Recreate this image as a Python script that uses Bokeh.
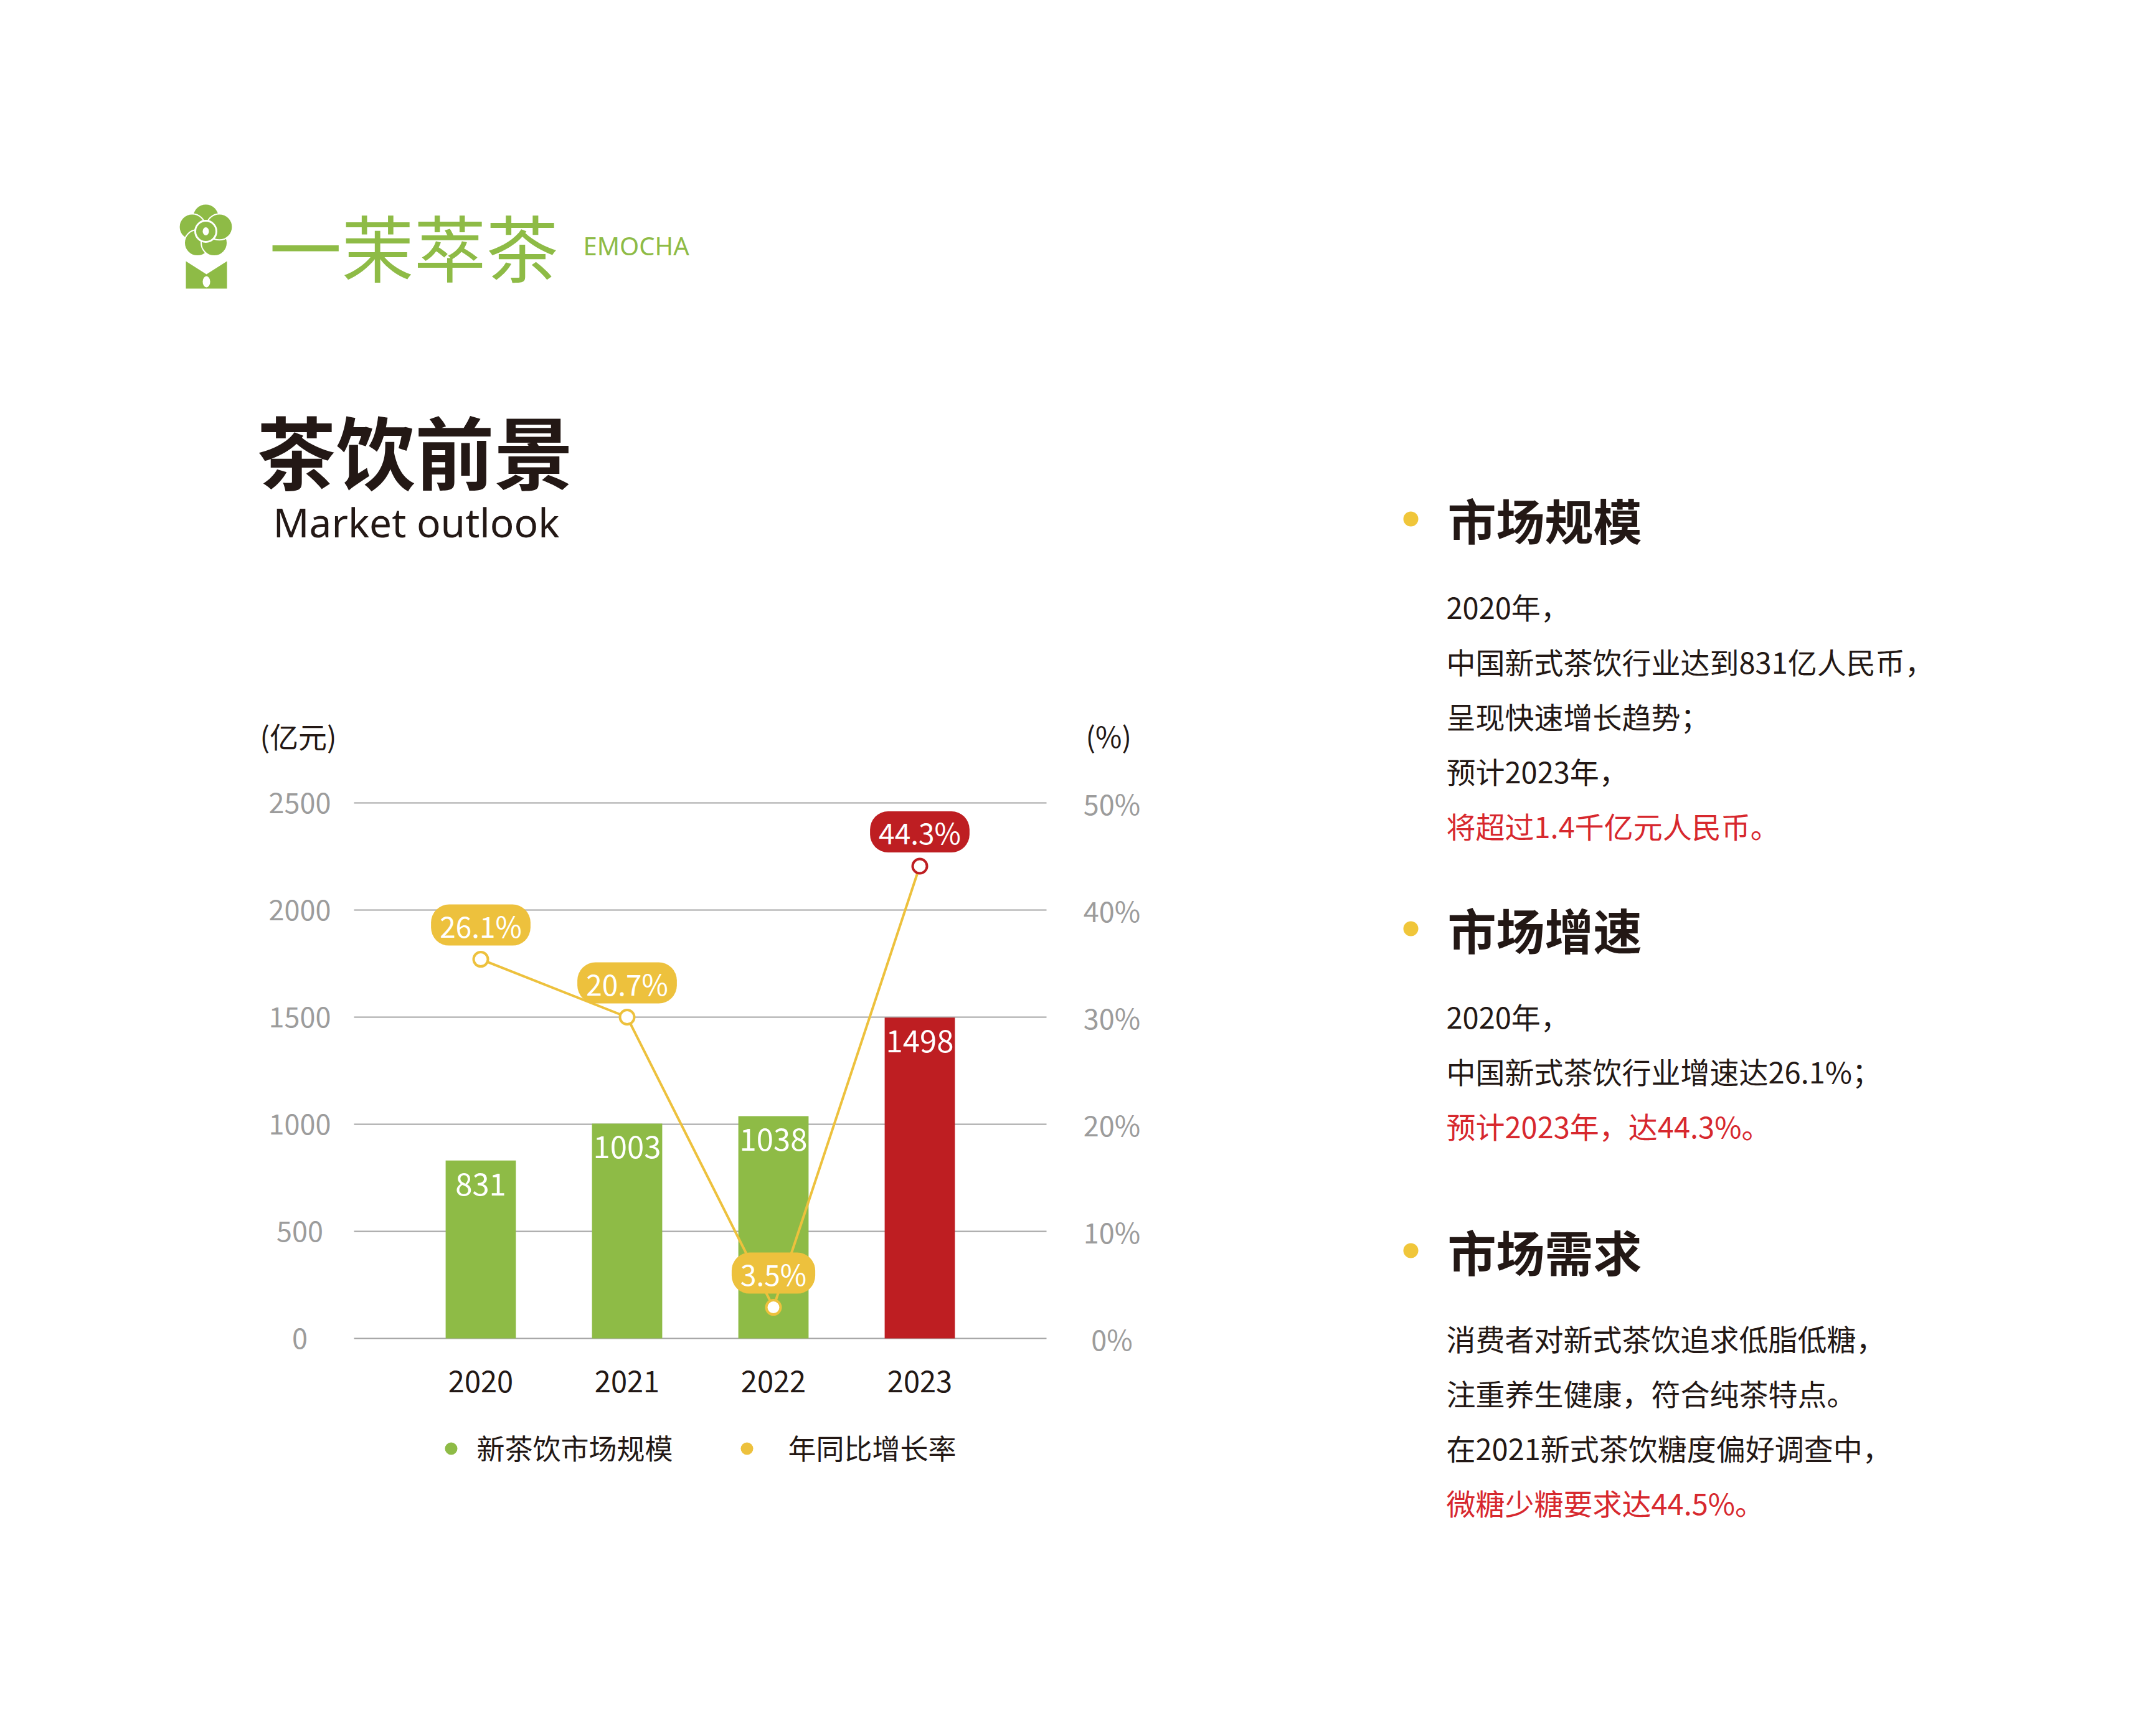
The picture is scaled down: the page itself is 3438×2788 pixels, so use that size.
import math
from bokeh.plotting import figure
from bokeh.models import Range1d, Label
from bokeh.core.properties import value
from bokeh.embed import file_html
from bokeh.resources import INLINE

# ---------------- data ----------------
years = ["2020", "2021", "2022", "2023"]
market_size = [831, 1003, 1038, 1498]                 # 亿元
growth_text = ["26.1%", "20.7%", "3.5%", "44.3%"]     # printed growth labels
growth_drawn = [35.4, 30.0, 2.9, 44.1]                # line point heights as drawn, read on the right (%) axis
size_ticks = [0, 500, 1000, 1500, 2000, 2500]
size_tick_labels = ["0", "500", "1000", "1500", "2000", "2500"]
pct_ticks = [0, 10, 20, 30, 40, 50]
pct_tick_labels = ["0%", "10%", "20%", "30%", "40%", "50%"]
legend_labels = ["新茶饮市场规模", "年同比增长率"]
y_unit = "(亿元)"
y2_unit = "(%)"
brand_cn = "一茉萃茶"
brand_en = "EMOCHA"
title_cn = "茶饮前景"
title_en = "Market outlook"
sec_titles = ["市场规模", "市场增速", "市场需求"]
sec_lines = [
    ["2020年，", "中国新式茶饮行业达到831亿人民币，", "呈现快速增长趋势；", "预计2023年，", "将超过1.4千亿元人民币。"],
    ["2020年，", "中国新式茶饮行业增速达26.1%；", "预计2023年，达44.3%。"],
    ["消费者对新式茶饮追求低脂低糖，", "注重养生健康，符合纯茶特点。", "在2021新式茶饮糖度偏好调查中，", "微糖少糖要求达44.5%。"],
]

# ---------------- layout / style ----------------
W, H = 3438, 2788
FL, FR, FT, FB = 568, 1680, 1289, 2149      # chart plot area on the page (px)
XLO, XHI = -0.866, 3.866                    # category axis extent
YMAX, PMAX = 2500, 50
GREEN = "#8EBB46"
RED = "#BE1E22"
YELLOW = "#EDC13D"
DARK = "#231815"
GRAY = "#9C9C9C"
GRIDC = "#A3A3A3"
TXTRED = "#D7282E"
CJK = "Noto Sans CJK SC"

n = len(years)
idx = list(range(n))
bar_colors = [RED if i == n - 1 else GREEN for i in idx]
bubble_colors = [RED if i == n - 1 else YELLOW for i in idx]
marker_colors = [RED if i == n - 1 else YELLOW for i in idx]

# page figure: default ranges are page pixels (y downwards)
p = figure(width=W, height=H, output_backend="svg", toolbar_location=None,
           x_range=Range1d(0, W), y_range=Range1d(H, 0),
           x_axis_type=None, y_axis_type=None, min_border=0,
           background_fill_color="white", border_fill_color="white", outline_line_color=None)
p.grid.visible = False

# chart scales mapped onto the chart area of the page
ux = (FR - FL) / (XHI - XLO)
ky = (FB - FT) / YMAX
kp = (FB - FT) / PMAX
p.extra_x_ranges = {"cx": Range1d(XLO - FL / ux, XHI + (W - FR) / ux)}
p.extra_y_ranges = {"cy": Range1d(-(H - FB) / ky, YMAX + FT / ky),
                    "cp": Range1d(-(H - FB) / kp, PMAX + FT / kp)}

# gridlines
p.segment(x0=[XLO] * len(size_ticks), x1=[XHI] * len(size_ticks), y0=size_ticks, y1=size_ticks,
          x_range_name="cx", y_range_name="cy", line_color=GRIDC, line_width=2)

# tick labels
p.text(x=[481] * len(size_ticks), y=size_ticks, text=size_tick_labels, y_range_name="cy",
       text_font=value(CJK), text_font_size="45px", text_color=GRAY,
       text_align="center", text_baseline="middle")
p.text(x=[1785] * len(pct_ticks), y=pct_ticks, text=pct_tick_labels, y_range_name="cp",
       text_font=value(CJK), text_font_size="45px", text_color=GRAY,
       text_align="center", text_baseline="middle")
p.text(x=idx, y=[2218] * n, text=years, x_range_name="cx",
       text_font=value(CJK), text_font_size="47px", text_color=DARK,
       text_align="center", text_baseline="middle")

# bars
p.vbar(x=idx, top=market_size, bottom=0, width=0.48, x_range_name="cx", y_range_name="cy",
       fill_color=bar_colors, line_color=None)
for i, v in zip(idx, market_size):
    p.add_layout(Label(x=i, y=v, x_range_name="cx", y_range_name="cy", y_offset=-38, text=str(v),
                       text_color="white", text_font=CJK, text_font_size="49px",
                       text_align="center", text_baseline="middle"))

# growth line
p.line(idx, growth_drawn, x_range_name="cx", y_range_name="cp", line_color=YELLOW, line_width=4)
p.scatter(idx, growth_drawn, x_range_name="cx", y_range_name="cp", size=23, marker="circle",
          fill_color="white", line_color=marker_colors, line_width=4)
for i, v, t, c in zip(idx, growth_drawn, growth_text, bubble_colors):
    p.add_layout(Label(x=i, y=v, x_range_name="cx", y_range_name="cp", y_offset=55, text=t,
                       text_color="white", text_font=CJK, text_font_size="46px",
                       text_align="center", text_baseline="middle",
                       background_fill_color=c, background_fill_alpha=1.0,
                       border_radius=29, padding=(14, 0)))


# ---------- page decorations ----------
def page_text(x, y, text, size, color=DARK, font=CJK, style="normal", align="left", baseline="middle"):
    p.add_layout(Label(x=x, y=y, text=text, text_font=font, text_font_size=f"{size}px",
                       text_color=color, text_font_style=style, text_align=align, text_baseline=baseline))


# axis units
page_text(417, 1180, y_unit, 46)
page_text(1743, 1180, y2_unit, 46)

# legend
p.scatter([724, 1199], [2326, 2326], size=20, marker="circle", fill_color=[GREEN, YELLOW], line_color=None)
page_text(765, 2324, legend_labels[0], 45)
page_text(1265, 2324, legend_labels[1], 45)

# logo icon
fcx, fcy = 330, 371
px_ = [fcx + 23 * math.cos(math.radians(90 + 72 * k)) for k in range(5)]
py_ = [fcy - 23 * math.sin(math.radians(90 + 72 * k)) for k in range(5)]
p.circle(px_, py_, radius=21, fill_color=GREEN, line_color="white", line_width=2)
p.circle([fcx], [fcy], radius=17, fill_color=GREEN, line_color="white", line_width=3)
p.ellipse([fcx], [fcy], width=10, height=13, fill_color="white", line_color=None)
p.patch([298, 331, 364, 364, 298], [419, 440, 419, 463, 463], fill_color=GREEN, line_color=None)
p.ellipse([331], [452], width=12, height=18, fill_color="white", line_color=None)

# brand
page_text(432, 392, brand_cn, 116, color=GREEN)
page_text(936, 394, brand_en, 40, color=GREEN, font="Noto Sans")

# title
page_text(412, 721, title_cn, 127, style="bold")
page_text(438, 838, title_en, 64, font="Noto Sans", baseline="alphabetic")

# right column
head_y = [833, 1491, 2008]
p.scatter([2265] * len(head_y), head_y, size=24, marker="circle", fill_color="#F0C63A", line_color=None)
for hy, ttl, lines in zip(head_y, sec_titles, sec_lines):
    page_text(2324, hy, ttl, 78, style="bold")
    for k, ln in enumerate(lines):
        col = TXTRED if k == len(lines) - 1 else DARK
        page_text(2322, hy + 140 + 88 * k, ln, 47, color=col)

open("out.html", "w").write(file_html(p, INLINE))
